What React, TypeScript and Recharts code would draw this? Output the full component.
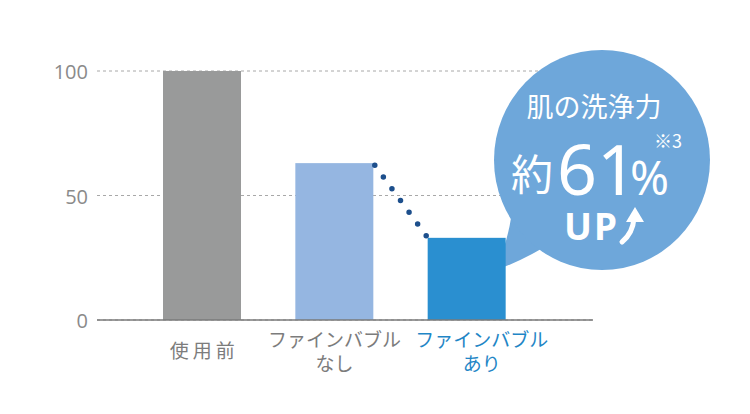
import React from 'react';
import { BarChart, Bar, XAxis, YAxis, CartesianGrid, Cell, Customized } from 'recharts';

const categories = ['使用前', 'ファインバブルなし', 'ファインバブルあり'];
const labelLines = [['使用前'], ['ファインバブル', 'なし'], ['ファインバブル', 'あり']];
const values = [100, 63, 33];
const yTicks = [0, 50, 100];
const barColors = ['#999a9a', '#95b6e1', '#2a8fd0'];
const labelColors = ['#7c7c7c', '#7c7c7c', '#1f86c6'];
const labelShift = [2, 0, 15];

const data = categories.map((name, i) => ({ name, value: values[i] }));

const FONT = '"Noto Sans CJK JP", "Noto Sans", sans-serif';
const LATIN = '"Noto Sans", "Open Sans", sans-serif';

const barTops: { [k: number]: { right: number; top: number } } = {};

const XTick = (props: any) => {
  const { x, y, index } = props;
  const lines = labelLines[index] || [];
  const color = labelColors[index];
  const cx = x + labelShift[index];
  if (lines.length === 1) {
    return (
      <text x={cx} y={y + 38} textAnchor="middle" fill={color} fontSize={19} fontFamily={FONT} letterSpacing={4}>
        {lines[0]}
      </text>
    );
  }
  return (
    <g>
      {lines.map((l: string, k: number) => (
        <text key={k} x={cx} y={y + 27 + k * 24} textAnchor="middle" fill={color} fontSize={19} fontFamily={FONT}>
          {l}
        </text>
      ))}
    </g>
  );
};

const YTick = (props: any) => {
  const { x, y, payload } = props;
  return (
    <text x={x} y={y} dy={8} textAnchor="end" fill="#8a8a8a" fontSize={20} fontFamily='"Open Sans", "Noto Sans", sans-serif'>
      {payload.value}
    </text>
  );
};

const BarShape = (props: any) => {
  const { x, y, width, height, fill, index } = props;
  barTops[index] = { right: x + width, top: y };
  let dots = null;
  if (index > 0 && index === values.length - 1 && barTops[index - 1]) {
    const x1 = barTops[index - 1].right, y1 = barTops[index - 1].top, x2 = x, y2 = y;
    const dx = x2 - x1, dy = y2 - y1;
    const len = Math.sqrt(dx * dx + dy * dy);
    const inset = 2.5;
    const sx = x1 + (dx / len) * inset, sy = y1 + (dy / len) * inset;
    const ex = x2 - (dx / len) * inset, ey = y2 - (dy / len) * inset;
    const l2 = len - 2 * inset;
    dots = (
      <line x1={sx} y1={sy} x2={ex} y2={ey} stroke="#1d4f8c" strokeWidth={5.5} strokeLinecap="round" strokeDasharray={`0 ${l2 / 6}`} />
    );
  }
  return (
    <g>
      <rect x={x} y={y} width={width} height={height} fill={fill} />
      {dots}
    </g>
  );
};

const Bubble = () => {
  const fill = '#6ea7da';
  return (
    <g>
      <path d="M 511 218 Q 506 250 493 271 Q 517 263 541 249 Z" fill={fill} />
      <ellipse cx={602} cy={160} rx={108} ry={110} fill={fill} />
      <text x={594} y={117} textAnchor="middle" fill="#fff" fontSize={27} fontFamily={FONT}>肌の洗浄力</text>
      <text x={511} y={190} textAnchor="start" fill="#fff" fontSize={42} fontFamily={FONT}>約</text>
      <text x={557} y={195} textAnchor="start" fill="#fff" fontSize={70} fontFamily={LATIN}>61</text>
      <text x={630} y={195} textAnchor="start" fill="#fff" fontSize={47} fontFamily={LATIN}>%</text>
      <text x={654} y={148} textAnchor="start" fill="#fff" fontSize={18} fontFamily={FONT}>※3</text>
      <text x={564} y={240} textAnchor="start" fill="#fff" fontSize={37} fontWeight={700} letterSpacing={2} fontFamily={LATIN}>UP</text>
      <path d="M 622 242 Q 633 233 634 218" stroke="#fff" strokeWidth={5} fill="none" strokeLinecap="round" />
      <path d="M 626 222 L 635 207 L 644 222 Z" fill="#fff" />
    </g>
  );
};

export default function App() {
  return (
    <div style={{ position: 'absolute', left: 0, top: 0, width: 750, height: 414, background: '#fff' }}>
      <BarChart width={750} height={414} data={data} margin={{ top: 71, right: 157, bottom: 0, left: 0 }}>
        <CartesianGrid vertical={false} stroke="#a8a8a8" strokeDasharray="3 3" />
        <XAxis
          dataKey="name"
          height={94}
          padding={{ left: 39, right: 60 }}
          axisLine={{ stroke: '#7a7a7a', strokeWidth: 1.5 }}
          tickLine={false}
          tickSize={0}
          tickMargin={0}
          tick={<XTick />}
          interval={0}
        />
        <YAxis
          width={97}
          domain={[0, 100]}
          ticks={yTicks}
          axisLine={false}
          tickLine={false}
          tickSize={0}
          tickMargin={9}
          tick={<YTick />}
        />
        <Bar dataKey="value" barSize={78} isAnimationActive={false} shape={<BarShape />}>
          {data.map((d, i) => (
            <Cell key={d.name} fill={barColors[i]} />
          ))}
        </Bar>
        <Customized component={<Bubble />} />
      </BarChart>
    </div>
  );
}
